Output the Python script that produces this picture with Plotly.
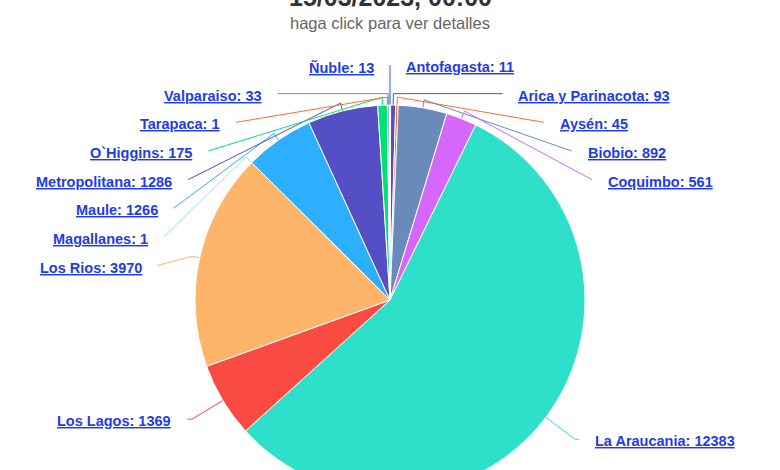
import math
import plotly.graph_objects as go

title_text = "15/03/2023, 00:00"
subtitle_text = "haga click para ver detalles"

regions = ["Antofagasta", "Arica y Parinacota", "Aysén", "Biobio", "Coquimbo",
           "La Araucania", "Los Lagos", "Los Rios", "Magallanes", "Maule",
           "Metropolitana", "O`Higgins", "Tarapaca", "Valparaiso", "Ñuble"]
counts = [11, 93, 45, 892, 561, 12383, 1369, 3970, 1, 1266, 1286, 175, 1, 33, 13]
colors = ["#2caffe", "#544fc5", "#fe6a35", "#6b8abc", "#d568fb",
          "#2ee0ca", "#fa4b42", "#feb56a", "#91e8e1", "#2caffe",
          "#544fc5", "#00e272", "#fe6a35", "#6b8abc", "#d568fb"]

# page geometry in pixels (figure is taller than the window, bottom gets cut)
W, H = 780, 500
CX, CY, R = 390, 300, 195
LABEL_R = 235      # where the label connectors end
BREAK_R = R + 8    # connector break just outside the slice
ROW = 28.65        # vertical spacing of stacked labels
TOP = 67           # highest label centre
GAP = 14           # connector end -> text
LINK_BLUE = "#1f3bf0"
FONT = "Arial, Liberation Sans, sans-serif"

fig = go.Figure()

fig.add_trace(go.Pie(
    labels=regions, values=counts,
    marker=dict(colors=colors, line=dict(color="white", width=1)),
    sort=False, direction="clockwise", rotation=0,
    textinfo="none", hoverinfo="label+value",
    domain=dict(x=[(CX - R) / W, (CX + R) / W],
                y=[1 - (CY + R) / H, 1 - (CY - R) / H]),
    showlegend=False,
))

# mid angle of each slice, clockwise from 12 o'clock
total = sum(counts)
mids = []
cum = 0
for v in counts:
    mids.append((cum + v / 2) / total * 2 * math.pi)
    cum += v

# stack labels on each side, top to bottom
label_y = {}
for right in (True, False):
    idx = [i for i, a in enumerate(mids) if (a < math.pi) == right]
    idx.sort(key=lambda i: CY - LABEL_R * math.cos(mids[i]))
    prev = -1e9
    for i in idx:
        nat = CY - LABEL_R * math.cos(mids[i])
        y = max(nat, TOP, prev + ROW)
        label_y[i] = y
        prev = y

annotations = []
for i, a in enumerate(mids):
    right = a < math.pi
    s = 1 if right else -1
    ly = label_y[i]
    ya = ly - 2
    xa = CX + s * math.sqrt(max(LABEL_R ** 2 - (ya - CY) ** 2, 0))
    tx, ty = CX + R * math.sin(a), CY - R * math.cos(a)
    bx, by = CX + BREAK_R * math.sin(a), CY - BREAK_R * math.cos(a)
    xs, ys = [xa], [ya]
    c = math.cos(a)
    if abs(c) > 1e-9:
        rc = (CY - ya) / c
        if rc > 0:
            xc = CX + rc * math.sin(a)
            if (right and bx <= xc <= xa) or (not right and xa <= xc <= bx):
                xs.append(xc)
                ys.append(ya)
    xs += [bx, tx]
    ys += [by, ty]
    fig.add_trace(go.Scatter(x=xs, y=ys, mode="lines",
                             line=dict(color=colors[i], width=1),
                             hoverinfo="skip", showlegend=False))
    annotations.append(dict(
        x=(xa + s * GAP) / W, y=1 - ly / H, xref="paper", yref="paper",
        text=f"{regions[i]}: {counts[i]}", showarrow=False,
        xanchor="left" if right else "right", yanchor="middle",
        font=dict(family=FONT, size=14.5, color=LINK_BLUE, weight="bold",
                  lineposition="under"),
    ))

# the title sits partly above the top edge, as in the reference
annotations.append(dict(
    x=0.5, y=1 + 3 / H, xref="paper", yref="paper", text=title_text,
    showarrow=False, xanchor="center", yanchor="middle",
    font=dict(family=FONT, size=25, color="#333333", weight="bold"),
))
annotations.append(dict(
    x=0.5, y=1 - 23 / H, xref="paper", yref="paper", text=subtitle_text,
    showarrow=False, xanchor="center", yanchor="middle",
    font=dict(family=FONT, size=16.5, color="#666666"),
))

fig.update_layout(
    width=W, height=H,
    margin=dict(l=0, r=0, t=0, b=0),
    paper_bgcolor="white", plot_bgcolor="white",
    xaxis=dict(range=[0, W], visible=False, fixedrange=True),
    yaxis=dict(range=[H, 0], visible=False, fixedrange=True),
    annotations=annotations,
    font=dict(family=FONT),
)

fig.write_html(
    "out.html",
    config={"displayModeBar": False},
    post_script="document.body.style.margin='0';"
                "document.body.style.overflow='hidden';"
                "document.documentElement.style.overflow='hidden';",
)
